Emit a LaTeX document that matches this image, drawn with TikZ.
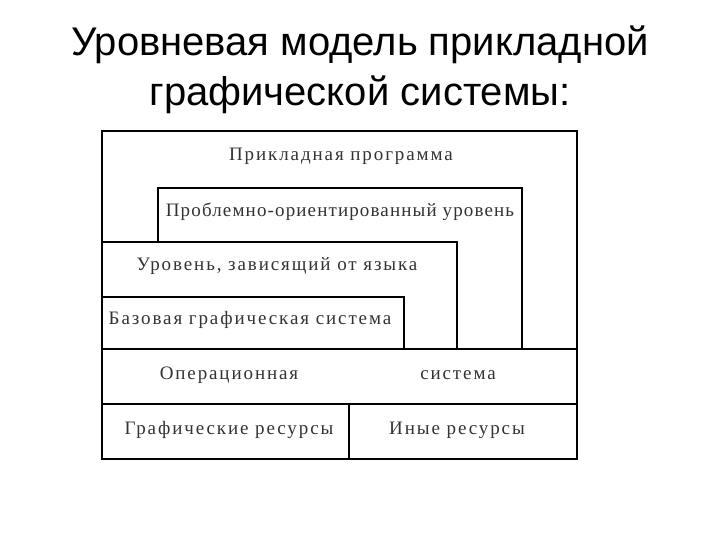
\documentclass[tikz,border=0pt]{standalone}
\usepackage{fontspec}
\setmainfont{Liberation Serif}
\newfontfamily\lblfont[LetterSpace=10]{Liberation Serif}
\newfontfamily\lbltight[LetterSpace=6]{Liberation Serif}
\newfontfamily\titlefont{Liberation Sans}
\usepackage{tikz}
\usetikzlibrary{positioning}

\begin{document}
\begin{tikzpicture}[
  x=1pt, y=-1pt,
  layer/.style={draw, line width=1.8pt, fill=white},
  lbl/.style={font=\lblfont\fontsize{19}{21}\selectfont, text=black!80,
              inner sep=1pt, text height=0.55em, text depth=0.2em},
  title/.style={font=\titlefont\fontsize{40}{50}\selectfont, align=center}
]
  \useasboundingbox (0,0) rectangle (720,540);
  \node[title] (head) at (360,70) {Уровневая модель прикладной\\графической системы:};
  % nested layers
  \draw[layer] (102,131) rectangle (577,349);
  \draw[layer] (158,188) rectangle (522,349);
  \draw[layer] (102,242) rectangle (457,349);
  \draw[layer] (102,297) rectangle (404,349);
  \draw[layer] (102,349) rectangle (577,404);
  \draw[layer] (102,404) rectangle (349,459);
  \draw[layer] (349,404) rectangle (577,459);
  % labels
  \node[lbl] (app) at (341,159) {Прикладная программа};
  \node[lbl, font=\lbltight\fontsize{19}{21}\selectfont] (prob) at (340,215)
    {Проблемно-ориентированный уровень};
  \node[lbl] (lang) at (277,269) {Уровень, зависящий от языка};
  \node[lbl] (base) at (250,323) {Базовая графическая система};
  \node[lbl] (os1) at (229,378) {Операционная};
  \node[lbl] (os2) at (458,378) {система};
  \node[lbl] (gres) at (229,433) {Графические ресурсы};
  \node[lbl] (ores) at (457,433) {Иные ресурсы};
\end{tikzpicture}
\end{document}
